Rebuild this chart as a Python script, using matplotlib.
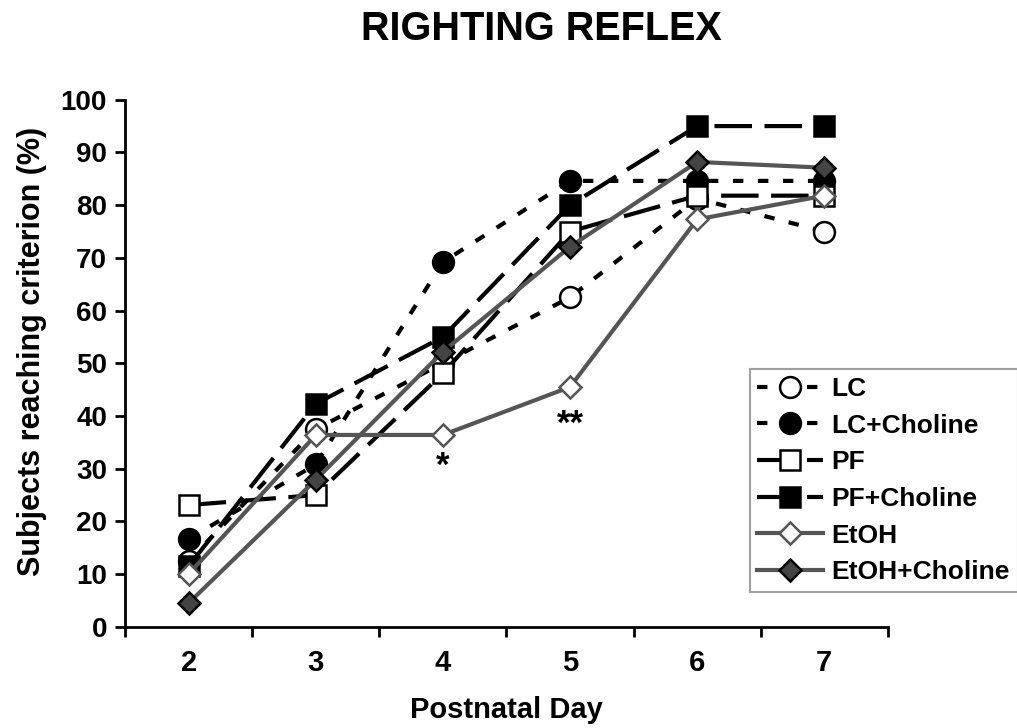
import numpy as np
import matplotlib
matplotlib.use("Agg")
import matplotlib.pyplot as plt

plt.rcParams['font.family'] = ['Liberation Sans', 'DejaVu Sans']
plt.rcParams['font.weight'] = 'bold'

# du lieu doc tu hinh
days = [2, 3, 4, 5, 6, 7]
lc = [12.5, 37.5, 50.0, 62.5, 81.25, 75.0]
lc_choline = [16.7, 30.8, 69.2, 84.6, 84.6, 84.6]
pf = [23.1, 25.0, 48.1, 75.0, 81.8, 81.8]
pf_choline = [11.5, 42.3, 55.0, 80.0, 95.0, 95.0]
etoh = [10.0, 36.4, 36.4, 45.5, 77.3, 81.8]
etoh_choline = [4.5, 27.9, 52.2, 72.1, 88.2, 87.1]
series_names = ["LC", "LC+Choline", "PF", "PF+Choline", "EtOH", "EtOH+Choline"]

fig = plt.figure(figsize=(10.17, 7.28), dpi=100)
ax = fig.add_axes([0.123, 0.139, 0.75, 0.724])

gray = '#555555'
dark = '#444444'
styles = [
    dict(color='black', dashes=(2.5, 3.5), marker='o', mfc='white', mec='black', ms=15),
    dict(color='black', dashes=(2.5, 3.5), marker='o', mfc='black', mec='black', ms=15),
    dict(color='black', dashes=(9, 3), marker='s', mfc='white', mec='black', ms=15),
    dict(color='black', dashes=(9, 3), marker='s', mfc='black', mec='black', ms=15),
    dict(color=gray, linestyle='-', marker='D', mfc='white', mec=gray, ms=11),
    dict(color=gray, linestyle='-', marker='D', mfc=dark, mec='black', ms=11),
]
data = [lc, lc_choline, pf, pf_choline, etoh, etoh_choline]
handles = []
for name, vals, st in zip(series_names, data, styles):
    h, = ax.plot(days, vals, lw=3, mew=1.8, label=name, **st)
    handles.append(h)

# dau sao danh dau
ax.text(4, 30.5, "*", ha='center', va='center', fontsize=25, fontweight='bold')
ax.text(5, 38.5, "**", ha='center', va='center', fontsize=25, fontweight='bold')

ax.set_xlim(1.5, 7.5)
ax.set_ylim(0, 100)
ax.set_yticks(np.arange(0, 101, 10))
ax.set_xticks(np.arange(1.5, 7.6, 1))
ax.set_xticklabels([])
ax.set_xticks(days, minor=True)
ax.set_xticklabels([str(d) for d in days], minor=True)
ax.tick_params(axis='x', which='minor', length=0, pad=16, labelsize=21)
ax.tick_params(axis='x', which='major', length=7, width=2)
ax.tick_params(axis='y', length=7, width=2, labelsize=20, pad=6)
for lab in ax.get_yticklabels() + ax.get_xticklabels(minor=True):
    lab.set_fontweight('bold')
for s in ['top', 'right']:
    ax.spines[s].set_visible(False)
for s in ['left', 'bottom']:
    ax.spines[s].set_linewidth(2)

ax.set_xlabel("Postnatal Day", fontsize=21, fontweight='bold', labelpad=14)
ax.set_ylabel("Subjects reaching criterion (%)", fontsize=22, fontweight='bold')
ax.yaxis.set_label_coords(-0.103, 0.522)
fig.text(0.532, 0.96, "RIGHTING REFLEX", ha='center', va='center', fontsize=28.5, fontweight='bold')

leg = fig.legend(handles=handles, loc='upper left', bbox_to_anchor=(0.737, 0.493),
                 borderaxespad=0, fontsize=19, frameon=True, fancybox=False,
                 handlelength=2.5, labelspacing=0.48, borderpad=0.3, handletextpad=0.3)
leg.get_frame().set_edgecolor('#888888')
leg.get_frame().set_linewidth(1.5)
for t in leg.get_texts():
    t.set_fontweight('bold')

fig.savefig("out.png", dpi=100)
